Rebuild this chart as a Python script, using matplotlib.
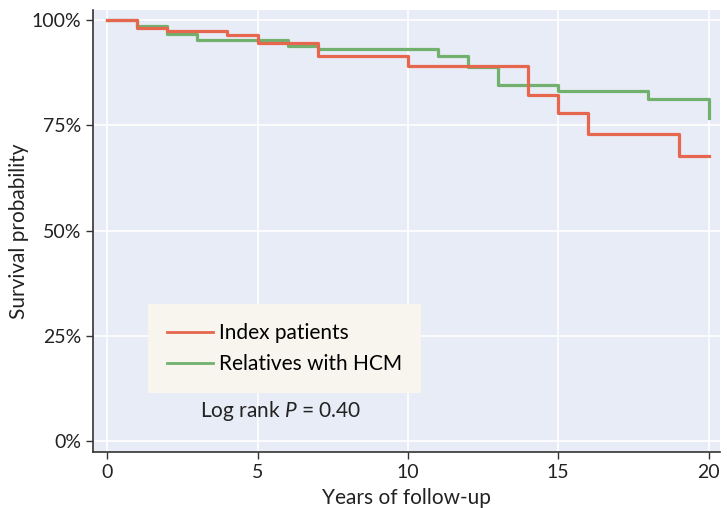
import matplotlib
matplotlib.use("Agg")
import matplotlib.pyplot as plt

# Kaplan-Meier step values (time in years, survival in %)
index_t = [0, 1, 2, 4, 5, 7, 10, 14, 15, 16, 19, 20]
index_s = [100, 98.2, 97.4, 96.5, 94.6, 91.5, 89.2, 82.3, 77.9, 73.0, 67.8, 67.8]
rel_t = [0, 1, 2, 3, 6, 7, 11, 12, 13, 15, 18, 20]
rel_s = [100, 98.7, 96.8, 95.3, 93.9, 93.2, 91.4, 88.8, 84.7, 83.3, 81.2, 76.8]

x_ticks = [0, 5, 10, 15, 20]
y_ticks = [0, 25, 50, 75, 100]
y_ticklabels = ["0%", "25%", "50%", "75%", "100%"]

red = "#e6674d"
green = "#72b06e"

plt.rcParams['font.family'] = ['Lato', 'DejaVu Sans']
plt.rcParams['mathtext.fontset'] = 'custom'
plt.rcParams['mathtext.it'] = 'Lato:italic'

fig = plt.figure(figsize=(7.27, 5.08), dpi=100)
ax = fig.add_axes([0.128, 0.110, 0.862, 0.870])
ax.set_facecolor("#e8ecf6")

ax.step(rel_t, rel_s, where="post", color=green, lw=2.3, label="Relatives with HCM", zorder=3)
ax.step(index_t, index_s, where="post", color=red, lw=2.3, label="Index patients", zorder=4)

ax.set_xlim(-0.47, 20.37)
ax.set_ylim(-2.6, 102.4)
ax.set_xticks(x_ticks)
ax.set_yticks(y_ticks)
ax.set_yticklabels(y_ticklabels)
ax.grid(True, color="white", lw=1.2)
ax.set_axisbelow(True)

for s in ["top", "right"]:
    ax.spines[s].set_visible(False)
for s in ["left", "bottom"]:
    ax.spines[s].set_color("#333333")
    ax.spines[s].set_linewidth(1.2)
ax.tick_params(direction="out", length=5, width=1, color="#333333", labelsize=14, labelcolor="#222222")

ax.set_xlabel("Years of follow-up", fontsize=15, color="#222222", labelpad=5)
ax.set_ylabel("Survival probability", fontsize=15, color="#222222", labelpad=2)

handles, labels = ax.get_legend_handles_labels()
leg = ax.legend(handles[::-1], labels[::-1], loc="upper left", bbox_to_anchor=(0.088, 0.335),
                borderaxespad=0, facecolor="#f7f5ee", edgecolor="none", framealpha=1,
                fancybox=False, fontsize=15, handlelength=2.2, handletextpad=0.3,
                borderpad=0.9, labelspacing=0.55)
for line in leg.get_lines():
    line.set_linewidth(2)

ax.text(0.30, 0.092, "Log rank $P$ = 0.40", transform=ax.transAxes, ha="center", va="center",
        fontsize=15, color="#222222")

fig.savefig("out.png", dpi=100)
